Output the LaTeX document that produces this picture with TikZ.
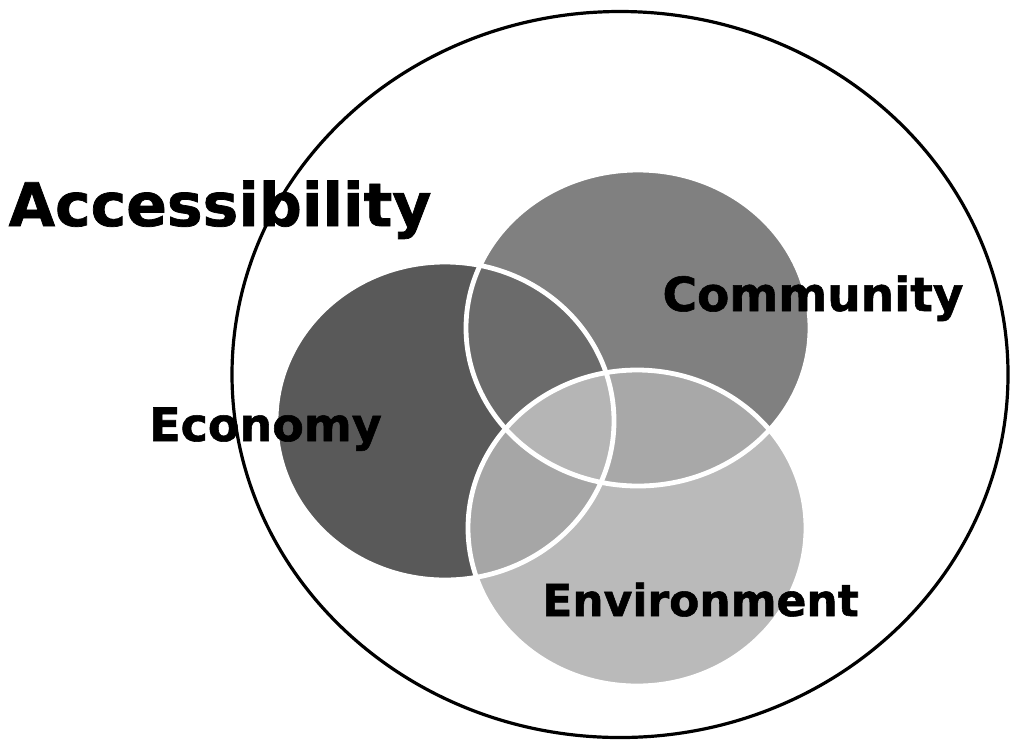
\documentclass[tikz,border=0pt]{standalone}
\usepackage{fontspec}
\newfontfamily\vennfont[BoldFeatures={FakeBold=1.2}]{DejaVu Sans}
\usepackage{tikz}
\usetikzlibrary{positioning}
\usepackage{xcolor}
\definecolor{econgray}{gray}{0.35}
\definecolor{commgray}{gray}{0.50}
\definecolor{envgray}{gray}{0.73}
\definecolor{econcomm}{gray}{0.42}
\definecolor{econenv}{gray}{0.65}
\definecolor{commenv}{gray}{0.66}
\definecolor{allthree}{gray}{0.71}

\begin{document}
\begin{tikzpicture}[x=0.5pt,y=-0.5pt,
    econ shape/.style={insert path={(econ) ellipse [x radius=169, y radius=159]}},
    comm shape/.style={insert path={(comm) ellipse [x radius=172, y radius=158]}},
    env shape/.style={insert path={(env) ellipse [x radius=169, y radius=158]}},
    venn edge/.style={draw=white, line width=2.4pt},
    venn label/.style={font=\vennfont\bfseries, inner sep=0pt, anchor=base}]
    \useasboundingbox (0,0) rectangle (1010,741);

    % Centres of the three circles
    \coordinate (econ) at (445,421);
    \coordinate (comm) at (638,328);
    \coordinate (env) at (637,528);
    \coordinate (outer) at (620,374.5);

    % Outer ring
    \draw[line width=1.6pt] (outer) ellipse [x radius=388, y radius=363];

    % Base fills
    \fill[econgray, econ shape];
    \fill[commgray, comm shape];
    \fill[envgray, env shape];

    % Overlaps
    \begin{scope}
        \clip[econ shape];
        \fill[econcomm, comm shape];
        \fill[econenv, env shape];
    \end{scope}
    \begin{scope}
        \clip[comm shape];
        \fill[commenv, env shape];
    \end{scope}
    \begin{scope}
        \clip[econ shape];
        \clip[comm shape];
        \fill[allthree, env shape];
    \end{scope}

    % White edges
    \path[venn edge, econ shape];
    \path[venn edge, comm shape];
    \path[venn edge, env shape];

    % Labels
    \node[venn label, font=\vennfont\bfseries\fontsize{30}{30}\selectfont] (access) at (220,226) {Accessibility};
    \node[venn label, font=\vennfont\bfseries\fontsize{23}{23}\selectfont] (economy) at (265.5,441) {Economy};
    \node[venn label, font=\vennfont\bfseries\fontsize{23.5}{23.5}\selectfont] (community) at (813,311) {Community};
    \node[venn label, font=\vennfont\bfseries\fontsize{22}{22}\selectfont] (environment) at (700.5,616) {Environment};
\end{tikzpicture}
\end{document}
